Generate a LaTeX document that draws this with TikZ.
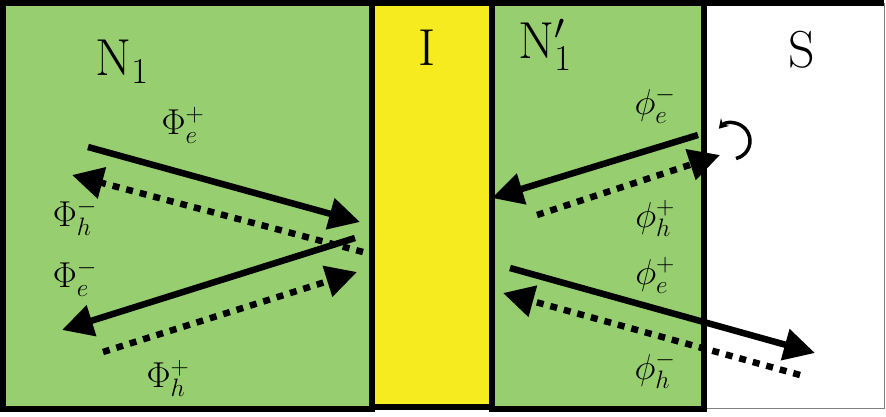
\RequirePackage{fix-cm}
\documentclass[tikz,border=0pt]{standalone}
\usetikzlibrary{arrows.meta}
\definecolor{ngreen}{RGB}{151,206,112}
\definecolor{iyellow}{RGB}{245,235,30}
\tikzset{
  bd/.style={line width=6pt, draw=black},
  sol/.style={line width=6.5pt, -{Triangle[length=31pt,width=31pt]}},
  dot/.style={line width=6.5pt, dash pattern=on 7pt off 7pt, -{Triangle[length=31pt,width=31pt]}},
  big/.style={inner sep=0pt, font=\fontsize{52}{56}\selectfont},
  lab/.style={inner sep=0pt, font=\fontsize{36}{40}\selectfont},
}
\begin{document}
\begin{tikzpicture}[x=1pt,y=1pt]
\useasboundingbox (0,0) rectangle (886,-417);
% regions
\draw[bd, fill=ngreen] (3,-3) rectangle (372,-409);
\draw[bd, fill=iyellow] (372,-3) rectangle (492,-407);
\draw[bd, fill=ngreen] (492,-3) rectangle (704,-409);
\fill[white] (707,-6) rectangle (884,-408);
\draw[gray, line width=1pt] (884,-3) -- (884,-408) -- (707,-408);
\draw[bd] (884,-3) -- (704,-3) -- (704,-409);
% region labels
\node[big] (lN) at (122,-62) {$\mathrm{N}_1$};
\node[big] (lI) at (427,-48) {$\mathrm{I}$};
\node[big] (lNp) at (545,-45) {$\mathrm{N}'_1$};
\node[big] (lS) at (802,-50) {$\mathrm{S}$};
% endpoints
\coordinate (a1) at (88,-147);  \coordinate (a2) at (360,-222);
\coordinate (b1) at (363,-252); \coordinate (b2) at (72,-175);
\coordinate (c1) at (355,-238); \coordinate (c2) at (62,-330);
\coordinate (d1) at (103,-352); \coordinate (d2) at (357,-272);
\coordinate (e1) at (698,-135); \coordinate (e2) at (492,-198);
\coordinate (f1) at (537,-215); \coordinate (f2) at (720,-155);
\coordinate (g1) at (510,-268); \coordinate (g2) at (815,-353);
\coordinate (h1) at (800,-375); \coordinate (h2) at (503,-293);
\coordinate (cc) at (732,-141);
% arrows
\draw[sol] (a1) -- (a2);
\draw[dot] (b1) -- (b2);
\draw[sol] (c1) -- (c2);
\draw[dot] (d1) -- (d2);
\draw[sol] (e1) -- (e2);
\draw[dot] (f1) -- (f2);
\draw[sol] (g1) -- (g2);
\draw[dot] (h1) -- (h2);
\draw[line width=3.5pt, {Stealth[length=9pt,width=11pt]}-] ([shift={(137:18)}]cc) arc[start angle=137, end angle=-77, radius=18];
% flux labels
\node[lab] (L1) at (183,-125) {$\Phi_e^+$};
\node[lab] (L2) at (75,-217) {$\Phi_h^-$};
\node[lab] (L3) at (75,-278) {$\Phi_e^-$};
\node[lab] (L4) at (168,-378) {$\Phi_h^+$};
\node[lab] (L5) at (655,-105) {$\phi_e^-$};
\node[lab] (L6) at (655,-218) {$\phi_h^+$};
\node[lab] (L7) at (655,-275) {$\phi_e^+$};
\node[lab] (L8) at (655,-370) {$\phi_h^-$};
\end{tikzpicture}
\end{document}
